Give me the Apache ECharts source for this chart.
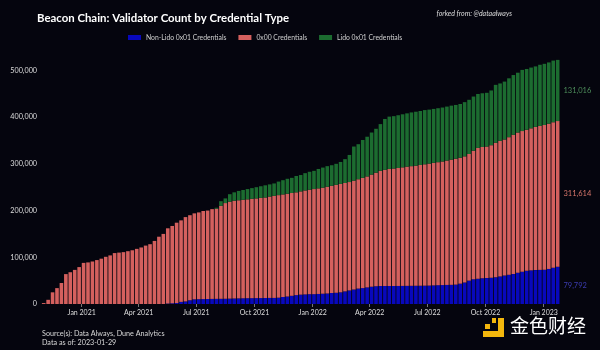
<!DOCTYPE html>
<html>
<head>
<meta charset="utf-8">
<script src="https://cdn.jsdelivr.net/npm/echarts@6/dist/echarts.min.js"></script>
<style>
  html, body { margin: 0; background: #05050e; }
  #chart { width: 600px; height: 350px; }
</style>
</head>
<body>
<div id="chart"></div>
<script>
// weekly bars, first week starts 2020-11-02
const firstWeek = '2020-11-02'

const nonLido = [
  0, 0, 0, 0, 0, 0, 0, 0, 0, 0, 0, 0, 0, 0, 0, 0, 0, 0, 0, 0, 0, 0, 0, 0, 0, 0, 0, 0,
  1000, 1500, 2000, 4500, 5500, 8000, 10000, 10300, 10500, 10700, 10900, 11000, 11100, 11200,
  11500, 11800, 12000, 12200, 12400, 12500, 12600, 12700, 12800, 13000, 13000, 13500, 15000, 16000,
  17500, 19000, 20000, 20500, 21000, 21000, 21500, 22000, 22500, 23500, 24000, 25000, 27000, 29000,
  31000, 33000, 34000, 35500, 37000, 38000, 38500, 38500, 38500, 38500, 38600, 38700, 38800, 38900,
  39000, 39100, 39200, 39400, 39800, 40200, 40500, 40800, 41000, 41500, 43500, 46000, 50000, 53000,
  54000, 55000, 55500, 56000, 57000, 59000, 61000, 62500, 64000, 67000, 69000, 71000, 72000, 72500,
  73000, 73500, 75000, 77500, 79792
]

const cred0x00 = [
  2000, 9000, 25000, 34000, 45000, 64000, 68000, 73000, 79000, 88000, 89000, 91000, 94000, 97000,
  101000, 104000, 109000, 110000, 111000, 113000, 115000, 118000, 121000, 125000, 128000, 135000,
  144000, 150000, 161000, 165500, 172000, 174500, 180500, 182000, 184000, 185700, 188500, 189300,
  192100, 193000, 198900, 204800, 207500, 209200, 210000, 210800, 211600, 212500, 213400, 214300,
  215200, 217000, 218500, 219500, 219500, 220000, 220000, 220000, 221000, 222500, 223500, 225000,
  226000, 227000, 228500, 229500, 231000, 232000, 232000, 232000, 233000, 234000, 236000, 237500,
  240000, 243000, 246500, 248500, 250500, 251500, 252400, 253800, 255200, 256100, 257000, 258400,
  259800, 261100, 262200, 263300, 264500, 266200, 268000, 269500, 269500, 270000, 271000, 275000,
  280000, 281000, 281500, 284000, 288000, 290000, 291000, 294500, 298000, 300000, 301000, 302000,
  304000, 306500, 308000, 309500, 311000, 311500, 311614
]

const lido = [
  0, 0, 0, 0, 0, 0, 0, 0, 0, 0, 0, 0, 0, 0, 0, 0, 0, 0, 0, 0, 0, 0, 0, 0, 0, 0, 0, 0, 0, 0, 0, 0,
  0, 0, 0, 0, 0, 0, 0,
  2000, 10000, 10000, 16000, 18000, 20000, 21000, 22000, 23000, 24000, 25000, 26000, 26000, 26500,
  29000, 30500, 32000, 32500, 35000, 35000, 37000, 38500, 39000, 41500, 43000, 44000, 44000, 45000,
  47000, 51000, 58000, 73000, 75000, 81000, 85000, 90000, 94000, 100000, 109000, 112000, 112000,
  113000, 113500, 114000, 115000, 115500, 115500, 116000, 115500, 115500, 115500, 115500, 115500,
  115500, 115000, 115000, 116000, 116000, 116000, 115500, 115000, 115000, 117000, 124000, 123000,
  124000, 126000, 128000, 128000, 131000, 130000, 130000, 129500, 131000, 131000, 131000, 132000,
  131016
]

const tickDates = ['2021-01-01', '2021-04-01', '2021-07-01', '2021-10-01', '2022-01-01',
  '2022-04-01', '2022-07-01', '2022-10-01', '2023-01-01']
const tickLabels = ['Jan 2021', 'Apr 2021', 'Jul 2021', 'Oct 2021', 'Jan 2022',
  'Apr 2022', 'Jul 2022', 'Oct 2022', 'Jan 2023']

const seriesNames = ['Non-Lido 0x01 Credentials', '0x00 Credentials', 'Lido 0x01 Credentials']
const seriesColors = ['#0808bc', '#d4605e', '#1c6c30']
const labelColors = ['#3c3cb0', '#d9776c', '#4f8f5c']

const FONT = 'Lato'
const DAY = 86400000
const start = Date.parse(firstWeek)
const weeks = nonLido.map((v, i) => start + i * 7 * DAY)
const tickTimes = tickDates.map(d => Date.parse(d))
const lastIdx = weeks.length - 1

const fmt = v => Number(v).toLocaleString('en-US')

function tickLabel(v) {
  for (let k = 0; k < tickTimes.length; k++) {
    if (Math.abs(tickTimes[k] - v) < DAY) return tickLabels[k]
  }
  return ''
}

function makeSeries(name, values, k) {
  return {
    name: name,
    type: 'bar',
    stack: 'total',
    barWidth: 3.6,
    data: weeks.map((t, i) => [t, values[i]]),
    itemStyle: { color: seriesColors[k] },
    label: {
      show: true,
      position: 'right',
      distance: 4,
      color: labelColors[k],
      fontSize: 7.5,
      fontFamily: FONT,
      formatter: p => p.dataIndex === lastIdx ? fmt(p.value[1]) : ''
    },
    silent: true
  }
}

var myChart = echarts.init(document.getElementById('chart'))
myChart.setOption({
  backgroundColor: '#05050e',
  animation: false,
  textStyle: { fontFamily: FONT },
  title: {
    text: 'Beacon Chain: Validator Count by Credential Type',
    left: 32,
    top: 8,
    textStyle: { color: '#ffffff', fontSize: 11.4, fontWeight: 'bold', fontFamily: FONT }
  },
  legend: {
    left: 123,
    top: 29,
    itemWidth: 13,
    itemHeight: 5,
    itemGap: 12,
    icon: 'rect',
    textStyle: { color: '#d0d0d0', fontSize: 6.8, fontFamily: FONT },
    data: seriesNames
  },
  grid: { left: 40, right: 38, top: 47, bottom: 46 },
  xAxis: {
    type: 'time',
    min: Date.parse('2020-10-30'),
    max: Date.parse('2023-01-27'),
    minInterval: 89 * DAY,
    maxInterval: 92 * DAY,
    axisLine: { show: false },
    axisTick: { show: true, length: 3, lineStyle: { color: '#777' } },
    axisLabel: { formatter: v => tickLabel(v), color: '#dddddd', fontSize: 7, margin: 5, fontFamily: FONT, hideOverlap: false },
    splitLine: { show: false }
  },
  yAxis: {
    type: 'value',
    min: 0,
    max: 550000,
    interval: 100000,
    splitLine: { show: false },
    axisLine: { show: false },
    axisTick: { show: false },
    axisLabel: {
      color: '#dddddd',
      fontSize: 7.2,
      margin: 3,
      fontFamily: FONT,
      formatter: v => v % 100000 === 0 ? fmt(v) : ''
    }
  },
  graphic: [
    { type: 'text', right: 88, top: 10,
      style: { text: 'forked from: @dataalways', fill: '#dddddd', fontSize: 7, fontStyle: 'italic', fontFamily: FONT } },
    { type: 'text', left: 42, top: 330,
      style: { text: 'Source(s): Data Always, Dune Analytics', fill: '#d8d8d8', fontSize: 7.2, fontFamily: FONT } },
    { type: 'text', left: 42, top: 339,
      style: { text: 'Data as of: 2023-01-29', fill: '#d8d8d8', fontSize: 7.2, fontFamily: FONT } },
    // watermark logo
    { type: 'rect', shape: { x: 498, y: 318, width: 6, height: 19 }, style: { fill: '#f3b70d' } },
    { type: 'rect', shape: { x: 483, y: 331, width: 21, height: 6 }, style: { fill: '#f3b70d' } },
    { type: 'rect', shape: { x: 485, y: 324, width: 5, height: 5 }, style: { fill: '#f3b70d' } },
    { type: 'rect', shape: { x: 492, y: 318, width: 4, height: 5 }, style: { fill: '#f3b70d' } },
    { type: 'text', left: 510, top: 316,
      style: { text: '金色财经', fill: '#ffffff', fontSize: 19, fontFamily: 'Noto Sans CJK SC' } }
  ],
  series: [
    makeSeries(seriesNames[0], nonLido, 0),
    makeSeries(seriesNames[1], cred0x00, 1),
    makeSeries(seriesNames[2], lido, 2)
  ]
})
</script>
</body>
</html>
